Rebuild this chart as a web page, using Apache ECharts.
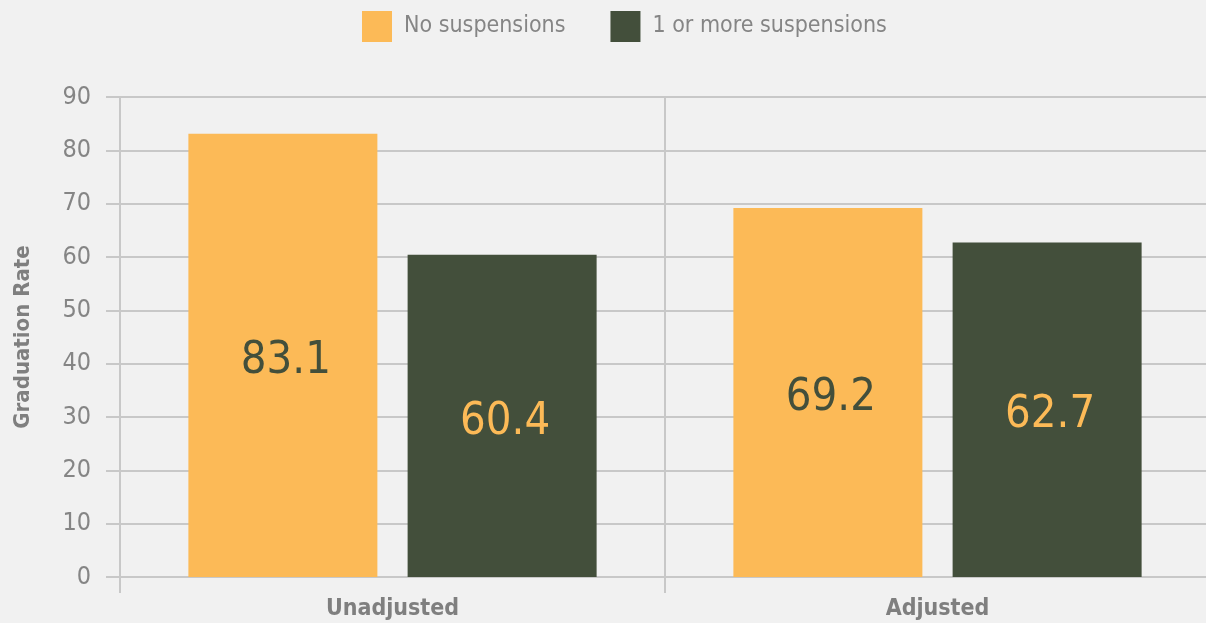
<!DOCTYPE html>
<html><head><meta charset="utf-8">
<script src="https://cdn.jsdelivr.net/npm/echarts@6/dist/echarts.min.js"></script>
<style>html,body{margin:0;padding:0;background:#f1f1f1}#c{width:1206px;height:623px}</style>
</head><body><div id="c"></div>
<script>
const categories = ['Unadjusted', 'Adjusted'];
const noSuspensions = [83.1, 69.2];
const oneOrMore = [60.4, 62.7];
const seriesNames = ['No suspensions', '1 or more suspensions'];
const yTicks = {min: 0, max: 90, interval: 10};

const FONT = '"Liberation Sans Narrow", "DejaVu Sans Condensed", sans-serif';
const GRID = '#c8c8c8';
const chart = echarts.init(document.getElementById('c'), null, {renderer: 'canvas'});
chart.setOption({
  backgroundColor: '#f1f1f1',
  animation: false,
  textStyle: {fontFamily: FONT},
  legend: {
    top: 11, left: 362, itemWidth: 30, itemHeight: 31, itemGap: 45, padding: 0,
    icon: 'rect',
    textStyle: {fontSize: 23, color: '#858585', fontFamily: FONT, padding: [3, 0, 0, 7]},
    data: seriesNames
  },
  grid: {left: 120, right: -4, top: 97, bottom: 46, containLabel: false, outerBoundsMode: 'none'},
  xAxis: {
    type: 'category', data: categories,
    axisLine: {show: true, lineStyle: {color: GRID, width: 2}},
    axisTick: {show: true, length: 16, lineStyle: {color: GRID, width: 2}},
    splitLine: {show: true, lineStyle: {color: GRID, width: 2}},
    axisLabel: {fontSize: 23, fontWeight: 'bold', color: '#7f7f7f', margin: 21, fontFamily: FONT}
  },
  yAxis: {
    type: 'value', min: yTicks.min, max: yTicks.max, interval: yTicks.interval,
    name: 'Graduation Rate', nameLocation: 'middle', nameGap: 86, nameRotate: 90,
    nameTextStyle: {fontSize: 22, fontWeight: 'bold', color: '#7f7f7f', fontFamily: FONT},
    axisLine: {show: true, lineStyle: {color: GRID, width: 2}},
    axisTick: {show: true, length: 14, lineStyle: {color: GRID, width: 2}},
    splitLine: {show: true, lineStyle: {color: GRID, width: 2}},
    axisLabel: {fontSize: 25, color: '#858585', margin: 29, fontFamily: FONT}
  },
  series: [
    {
      name: seriesNames[0], type: 'bar', data: noSuspensions,
      barWidth: 189, barGap: '16%',
      itemStyle: {color: '#fcba57'},
      label: {show: true, position: 'inside', offset: [3, 6], fontSize: 45, color: '#434f3b', fontFamily: FONT}
    },
    {
      name: seriesNames[1], type: 'bar', data: oneOrMore,
      barWidth: 189,
      itemStyle: {color: '#434f3b'},
      label: {show: true, position: 'inside', offset: [3, 6], fontSize: 45, color: '#fcba57', fontFamily: FONT}
    }
  ]
});
</script></body></html>
